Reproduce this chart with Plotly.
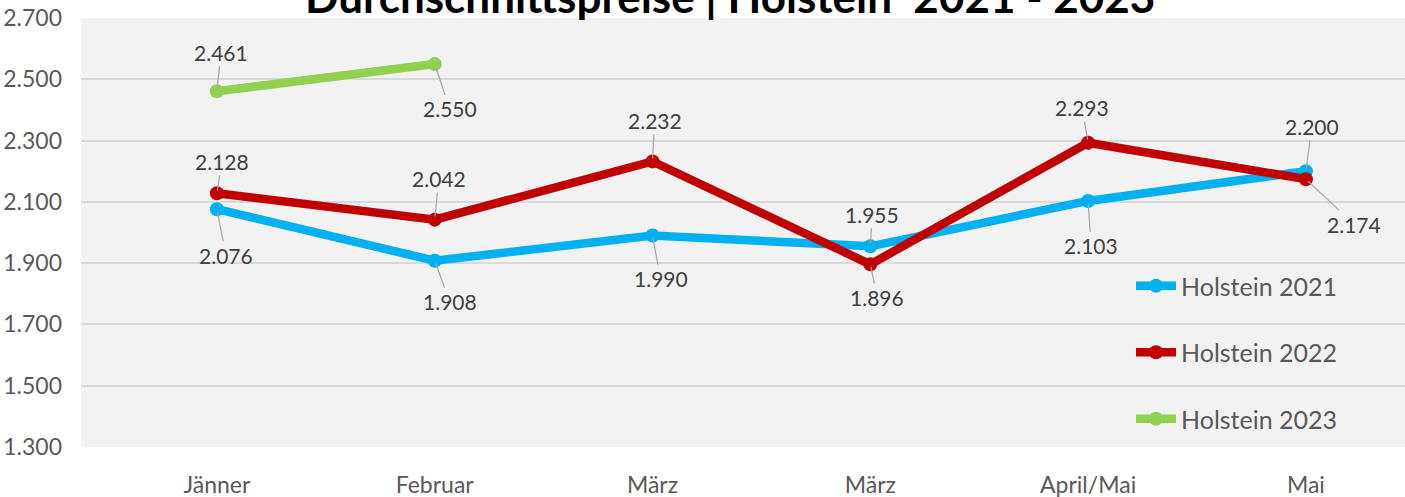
import plotly.graph_objects as go

categories = ["Jänner", "Februar", "März", "März", "April/Mai", "Mai"]
holstein_2021 = [2076, 1908, 1990, 1955, 2103, 2200]
holstein_2022 = [2128, 2042, 2232, 1896, 2293, 2174]
holstein_2023 = [2461, 2550, None, None, None, None]

series_names = ["Holstein 2021", "Holstein 2022", "Holstein 2023"]
series_colors = ["#00B0F0", "#C00000", "#92D050"]

# label offsets (pixels) relative to each point: (dx, dy)
label_offsets = [
    [(9, 46), (15, 41), (8, 43), (2, -32), (3, 45), (6, -45)],
    [(5, -32), (4, -41), (2, -41), (7, 33), (-6, -35), (48, 45)],
    [(4, -39), (15, 45), None, None, None, None],
]

FONT = "Lato, Open Sans, sans-serif"
xs = list(range(len(categories)))
all_series = [holstein_2021, holstein_2022, holstein_2023]

fig = go.Figure()
for name, vals, col in zip(series_names, all_series, series_colors):
    fig.add_trace(go.Scatter(
        x=xs, y=vals, name=name, mode="lines+markers",
        line=dict(color=col, width=8.5),
        marker=dict(color=col, size=14),
        legendgroup=name,
        connectgaps=False,
    ))

annotations = []
for vals, offs in zip(all_series, label_offsets):
    for x, v, off in zip(xs, vals, offs):
        if v is None or off is None:
            continue
        annotations.append(dict(
            x=x, y=v, xref="x", yref="y",
            text=f"{v:,}".replace(",", "."),
            showarrow=True, arrowhead=0, arrowwidth=1.2, arrowcolor="#A6A6A6",
            standoff=3, ax=off[0], ay=off[1],
            font=dict(family=FONT, size=21, color="#404040"),
        ))

annotations.append(dict(
    x=(730 - 81) / 1324, xref="paper", y=0.985, yref="paper",
    xanchor="center", yanchor="bottom",
    text="<b>Durchschnittspreise | Holstein  2021 - 2023</b>", showarrow=False,
    font=dict(family=FONT, size=44, color="#000000"),
))

fig.update_layout(
    width=1405, height=497,
    margin=dict(l=81, r=0, t=18, b=50),
    paper_bgcolor="white",
    plot_bgcolor="#F2F2F2",
    separators=",.",
    showlegend=True,
    legend=dict(
        x=(1131 - 81) / 1324, y=(447 - 263) / 429, xanchor="left", yanchor="top",
        bgcolor="rgba(0,0,0,0)", tracegroupgap=31,
        font=dict(family=FONT, size=25, color="#595959"),
        itemwidth=40,
    ),
    xaxis=dict(
        range=[-0.624, 5.455], tickmode="array", tickvals=xs, ticktext=categories,
        showgrid=False, zeroline=False, showline=False, automargin=False,
        tickfont=dict(family=FONT, size=23, color="#595959"),
        ticklabelstandoff=22,
    ),
    yaxis=dict(
        range=[1300, 2700], dtick=200, tick0=1300, tickformat=",d",
        showgrid=True, gridcolor="#D9D9D9", gridwidth=2, zeroline=False, showline=False,
        automargin=False,
        tickfont=dict(family=FONT, size=23, color="#595959"),
        ticklabelstandoff=18,
    ),
    annotations=annotations,
)

fig.write_html(
    "out.html",
    config={"displayModeBar": False},
    post_script="document.body.style.margin='0';document.body.style.overflow='hidden';",
)
